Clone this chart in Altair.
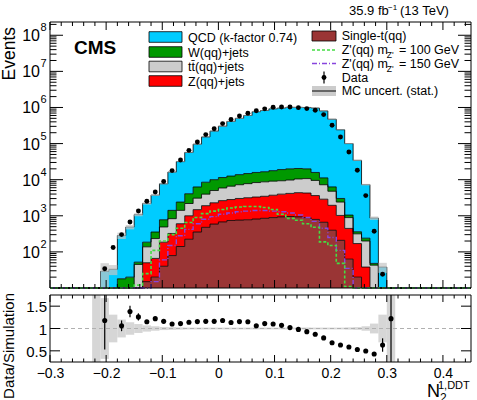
import altair as alt
import pandas as pd

FONT = "Liberation Sans"

# N2^{1,DDT} binning: 50 bins of width 0.015 between -0.3 and 0.45
X_MIN, X_MAX = -0.3, 0.45
N_BINS = 50
BIN_W = 0.015
bin_lo = [round(X_MIN + i * BIN_W, 4) for i in range(N_BINS)]
bin_hi = [round(X_MIN + (i + 1) * BIN_W, 4) for i in range(N_BINS)]
bin_mid = [round(X_MIN + (i + 0.5) * BIN_W, 5) for i in range(N_BINS)]

# ---- background yields per bin (stacked bottom -> top) ----
single_t = [0, 0, 0, 0, 0, 0, 0, 0, 0, 0,
            0, 15, 20, 40, 79, 141, 224, 355, 479, 589,
            676, 741, 759, 776, 813, 851, 891, 933, 955, 933,
            891, 794, 661, 398, 209, 63, 20, 0, 0, 0,
            0, 0, 0, 0, 0, 0, 0, 0, 0, 0]
z_jets = [0, 0, 0, 0, 0, 0, 0, 0, 0, 0,
          0, 35, 46, 146, 245, 462, 776, 1124, 1426, 1702,
          1954, 2077, 2261, 2386, 2498, 2616, 2824, 3048, 3214, 3432,
          3375, 2837, 2223, 1552, 814, 384, 150, 38, 0, 0,
          0, 0, 0, 0, 0, 0, 0, 0, 0, 0]
tt_jets = [0, 0, 0, 0, 0, 0, 0, 0, 0, 0,
           45, 88, 168, 304, 508, 810, 1188, 1600, 2076, 2721,
           3258, 3789, 4224, 4600, 5007, 5243, 5405, 5352, 5603, 6106,
           6449, 5919, 4360, 2836, 1376, 444, 146, 162, 43, 0,
           0, 0, 0, 0, 0, 0, 0, 0, 0, 0]
w_jets = [0, 0, 0, 0, 0, 0, 0, 0, 18, 20,
          7, 48, 121, 286, 581, 986, 1886, 3208, 4530, 4988,
          5594, 5982, 6560, 7029, 7531, 7886, 8663, 9722, 10181, 9946,
          9238, 6299, 3976, 1524, 621, 156, 45, 40, 5, 0,
          0, 0, 0, 0, 0, 0, 0, 0, 0, 0]
qcd = [0, 0, 0, 0, 0, 3, 29, 33, 266, 468,
       1026, 2007, 3387, 6908, 14832, 29277, 52821, 89818, 144420, 211552,
       291908, 398915, 486629, 585209, 749245, 807728, 900399, 943562, 989851, 989787,
       980047, 949668, 792577, 465749, 238250, 98953, 33985, 7064, 817, 38,
       4, 0, 0, 0, 0, 0, 0, 0, 0, 0]

# relative MC statistical uncertainty per bin
mc_unc = [0, 0, 0, 0, 0, 1.0, 0.68, 0.31, 0.2, 0.14,
          0.1, 0.07, 0.05, 0.035, 0.03, 0.025, 0.02, 0.02, 0.02, 0.02,
          0.02, 0.02, 0.02, 0.02, 0.02, 0.02, 0.02, 0.02, 0.02, 0.02,
          0.02, 0.02, 0.02, 0.02, 0.02, 0.025, 0.03, 0.05, 0.11, 0.31,
          1.0, 0, 0, 0, 0, 0, 0, 0, 0, 0]

# ---- signal templates ----
zp100 = [0, 0, 0, 0, 0, 0, 0, 0, 0, 0,
         12, 25, 110, 200, 300, 450, 650, 900, 1150, 1350,
         1500, 1650, 1750, 1800, 1800, 1700, 1500, 1100, 850, 750,
         600, 480, 190, 150, 48, 11, 0, 0, 0, 0,
         0, 0, 0, 0, 0, 0, 0, 0, 0, 0]
zp150 = [0, 0, 0, 0, 0, 0, 0, 0, 0, 0,
         0, 0, 15, 60, 150, 280, 420, 600, 800, 950,
         1100, 1200, 1300, 1350, 1400, 1400, 1350, 1300, 1200, 1050,
         900, 700, 450, 250, 110, 35, 10, 0, 0, 0,
         0, 0, 0, 0, 0, 0, 0, 0, 0, 0]

# ---- observed data ----
data_obs = [0, 0, 0, 0, 0, 0, 34, 132, 301, 673,
            1358, 2522, 4565, 8913, 17870, 35160, 64860, 110700, 177400, 257000,
            358000, 465000, 578000, 690000, 811000, 915000, 1010000, 1030000, 1030000, 990000,
            930000, 840000, 635000, 321000, 152000, 58500, 18200, 3630, 372, 24,
            5, 0, 0, 0, 0, 0, 0, 0, 0, 0]
ratio = [None, None, None, None, None, None, 1.18, 3.9, 1.06, 1.38,
         1.26, 1.15, 1.22, 1.16, 1.10, 1.11, 1.14, 1.155, 1.16, 1.16,
         1.18, 1.135, 1.155, 1.15, 1.06, 1.11, 1.10, 1.07, 1.02, 0.98,
         0.93, 0.87, 0.79, 0.68, 0.63, 0.585, 0.53, 0.495, 0.43, 0.63,
         1.22, None, None, None, None, None, None, None, None, None]
ratio_err = [0, 0, 0, 0, 0, 0, 0.65, 0.9, 0.12, 0.13,
             0.08, 0.04, 0.03, 0.02, 0.015, 0.01, 0.01, 0.01, 0.01, 0.01,
             0.01, 0.01, 0.01, 0.01, 0.01, 0.01, 0.01, 0.01, 0.01, 0.01,
             0.01, 0.01, 0.01, 0.01, 0.01, 0.01, 0.01, 0.02, 0.03, 0.15,
             1.3, 0, 0, 0, 0, 0, 0, 0, 0, 0]

x_ticks_major = [-0.3, -0.2, -0.1, 0.0, 0.1, 0.2, 0.3, 0.4]
y_ticks_major = [1e2, 1e3, 1e4, 1e5, 1e6, 1e7, 1e8]
ratio_ticks = [0.5, 1.0, 1.5]

# ---- panel geometry (pixels inside the plotting group) ----
W = 421
TOP_H = 266
RAT_TOP = 273
RAT_BOT = 340
Y_MIN, Y_MAX = 10, 2.33e8

x_scale = alt.Scale(domain=[X_MIN, X_MAX], nice=False, zero=False)
y_log = alt.Scale(type="log", domain=[Y_MIN, Y_MAX], range=[TOP_H, 0], clamp=True, nice=False)
y_rat = alt.Scale(domain=[0.25, 1.75], range=[RAT_BOT, RAT_TOP], clamp=True, nice=False, zero=False)

x_axis = alt.Axis(values=x_ticks_major, format=".1~f", labelFont=FONT, labelFontSize=14,
                  labelColor="black", labelPadding=4, labelFlush=False, ticks=False,
                  domain=False, grid=False, title=None)


def X(field):
    return alt.X(field, type="quantitative", scale=x_scale, axis=x_axis)


def YL(field):
    return alt.Y(field, type="quantitative", scale=y_log, axis=None)


def YR(field):
    return alt.Y(field, type="quantitative", scale=y_rat, axis=None)


FLOOR = 0.1


def step_frame(hi_vals, lo_vals=None):
    rows = []
    for i in range(N_BINS + 1):
        j = min(i, N_BINS - 1)
        x = bin_lo[i] if i < N_BINS else bin_hi[-1]
        row = {"x": x, "hi": max(hi_vals[j], FLOOR)}
        if lo_vals is not None:
            row["lo"] = max(lo_vals[j], FLOOR)
        rows.append(row)
    return pd.DataFrame(rows)


one = pd.DataFrame({"k": [0]})


def text(t, x, y, size, align="left", baseline="alphabetic", **kw):
    return alt.Chart(one).mark_text(text=t, font=FONT, fontSize=size, align=align,
                                    baseline=baseline, color="black", **kw).encode(
        x=alt.value(x), y=alt.value(y))


def box(x0, x1, y0, y1, fill, stroke="black", sw=0.8, **kw):
    return alt.Chart(one).mark_rect(fill=fill, stroke=stroke, strokeWidth=sw, **kw).encode(
        x=alt.value(x0), x2=alt.value(x1), y=alt.value(y0), y2=alt.value(y1))


layers = []

# ---- stacked backgrounds ----
stack = [("#9a3535", single_t), ("#ff0000", z_jets), ("#cccccc", tt_jets),
         ("#009900", w_jets), ("#00ccff", qcd)]
cum = [0.0] * N_BINS
outlines = []
for col, vals in stack:
    lower = cum[:]
    cum = [a + b for a, b in zip(cum, vals)]
    df = step_frame(cum, lower)
    layers.append(alt.Chart(df).mark_area(interpolate="step-after", color=col, opacity=1).encode(
        x=X("x"), y=YL("hi"), y2="lo"))
    outlines.append(alt.Chart(df).mark_line(interpolate="step-after", color="black",
                                            strokeWidth=0.8).encode(x=X("x"), y=YL("hi")))
layers += outlines
total = cum

# MC stat. band on the total
band = pd.DataFrame({"lo": bin_lo, "hi": bin_hi,
                     "dn": [t * (1 - u) for t, u in zip(total, mc_unc)],
                     "up": [t * (1 + u) for t, u in zip(total, mc_unc)],
                     "t": total})
band = band[band["t"] > 0].copy()
band["dn"] = band["dn"].clip(lower=FLOOR)
layers.append(alt.Chart(band).mark_rect(fill="#c4c4c4", opacity=0.7).encode(
    x=X("lo"), x2="hi", y=YL("up"), y2="dn"))

# signals
layers.append(alt.Chart(step_frame(zp150)).mark_line(
    interpolate="step-after", color="#8844dd", strokeWidth=1.4, strokeDash=[5, 2, 1, 2]).encode(
    x=X("x"), y=YL("hi")))
layers.append(alt.Chart(step_frame(zp100)).mark_line(
    interpolate="step-after", color="#44dd44", strokeWidth=1.6, strokeDash=[3, 2]).encode(
    x=X("x"), y=YL("hi")))

# data points
pts = pd.DataFrame({"x": bin_mid, "n": data_obs})
pts = pts[pts["n"] >= Y_MIN]
layers.append(alt.Chart(pts).mark_circle(size=24, color="black", opacity=1).encode(
    x=X("x"), y=YL("n")))

# ---- ratio panel ----
rb = pd.DataFrame({"lo": bin_lo, "hi": bin_hi,
                   "dn": [1 - u for u in mc_unc], "up": [1 + u for u in mc_unc], "u": mc_unc})
rb = rb[rb["u"] > 0]
layers.append(alt.Chart(rb).mark_rect(fill="#cfcfcf", opacity=0.85).encode(
    x=X("lo"), x2="hi", y=YR("up"), y2="dn"))
layers.append(alt.Chart(pd.DataFrame({"v": [1.0]})).mark_rule(
    color="#b0b0b0", strokeDash=[4, 3], strokeWidth=1).encode(
    y=YR("v"), x=alt.value(0), x2=alt.value(W)))

rp = pd.DataFrame({"x": bin_mid, "r": ratio, "e": ratio_err}).dropna()
rp["lo"] = rp["r"] - rp["e"]
rp["hi"] = rp["r"] + rp["e"]
bars = rp[(rp["lo"] < 1.75) & (rp["hi"] > 0.25)]
layers.append(alt.Chart(bars).mark_rule(color="black", strokeWidth=1.2).encode(
    x=X("x"), y=YR("lo"), y2="hi"))
dots = rp[(rp["r"] <= 1.75) & (rp["r"] >= 0.25)]
layers.append(alt.Chart(dots).mark_circle(size=26, color="black", opacity=1).encode(
    x=X("x"), y=YR("r")))

# ---- inward ticks ----
x_minor = [round(-0.3 + 0.02 * i, 2) for i in range(38) if i % 5 != 0]
y_minor = [m * 10 ** n for n in range(1, 9) for m in range(2, 10) if m * 10 ** n < Y_MAX]


def x_ticks(vals, y0, y1):
    return alt.Chart(pd.DataFrame({"v": vals})).mark_rule(color="black", strokeWidth=1).encode(
        x=X("v"), y=alt.value(y0), y2=alt.value(y1))


layers += [x_ticks(x_ticks_major, TOP_H, TOP_H - 8), x_ticks(x_minor, TOP_H, TOP_H - 4),
           x_ticks(x_ticks_major, 0, 8), x_ticks(x_minor, 0, 4),
           x_ticks(x_ticks_major, RAT_BOT, RAT_BOT - 7), x_ticks(x_minor, RAT_BOT, RAT_BOT - 3.5),
           x_ticks(x_ticks_major, RAT_TOP, RAT_TOP + 7), x_ticks(x_minor, RAT_TOP, RAT_TOP + 3.5)]

for vals, ln in [(y_ticks_major, 13), (y_minor, 6.5)]:
    d = pd.DataFrame({"v": vals})
    layers.append(alt.Chart(d).mark_rule(color="black", strokeWidth=1).encode(
        y=YL("v"), x=alt.value(0), x2=alt.value(ln)))
    layers.append(alt.Chart(d).mark_rule(color="black", strokeWidth=1).encode(
        y=YL("v"), x=alt.value(W - ln), x2=alt.value(W)))
rt = pd.DataFrame({"v": ratio_ticks})
layers.append(alt.Chart(rt).mark_rule(color="black", strokeWidth=1).encode(
    y=YR("v"), x=alt.value(0), x2=alt.value(10)))
layers.append(alt.Chart(rt).mark_rule(color="black", strokeWidth=1).encode(
    y=YR("v"), x=alt.value(W - 10), x2=alt.value(W)))

# panel frames
layers.append(box(0, W, 0, TOP_H, "transparent", sw=1))
layers.append(box(0, W, RAT_TOP, RAT_BOT, "transparent", sw=1))

# ---- axis labels ----
ylab = pd.DataFrame({"v": y_ticks_major, "p": [str(e) for e in range(2, 9)]})
layers.append(alt.Chart(ylab).mark_text(text="10", font=FONT, fontSize=16, align="right",
                                        baseline="middle", dy=1, color="black").encode(
    y=YL("v"), x=alt.value(-10)))
layers.append(alt.Chart(ylab).mark_text(font=FONT, fontSize=11, align="left",
                                        baseline="middle", dy=-7, color="black").encode(
    y=YL("v"), x=alt.value(-9.5), text="p:N"))
rlab = pd.DataFrame({"v": ratio_ticks, "t": ["0.5", "1", "1.5"]})
layers.append(alt.Chart(rlab).mark_text(font=FONT, fontSize=15, align="right",
                                        baseline="middle", dy=1, color="black").encode(
    y=YR("v"), x=alt.value(-3), text="t:N"))

layers.append(text("Events", -35, 5, 17.5, align="right", angle=270))
layers.append(text("Data/Simulation", -36, 271, 15, align="right", angle=270))
layers.append(text("N", 377, 375, 18))
layers.append(text("2", 390, 380, 12))
layers.append(text("1,DDT", 388, 367, 11))

# ---- header ----
layers.append(text("CMS", 24, 32, 19, fontWeight="bold"))
layers.append(text("35.9 fb", 299, -7, 13))
layers.append(text("\u22121", 338, -12, 8))
layers.append(text("(13 TeV)", 350, -7, 13))

# ---- legend ----
left_rows = [("QCD (k-factor 0.74)", "#00ccff", 15), ("W(qq)+jets", "#009900", 30),
             ("tt\u0304(qq)+jets", "#cccccc", 44.5), ("Z(qq)+jets", "#ff0000", 59)]
for label, col, yc in left_rows:
    layers.append(box(99, 132, yc - 5.3, yc + 5.3, col))
    layers.append(text(label, 138, yc + 0.5, 12.5, baseline="middle"))

layers.append(box(262, 286, 14 - 5, 14 + 5, "#9a3535"))
layers.append(text("Single-t(qq)", 291.7, 14, 12.5, baseline="middle"))
for yc, col, dash, mass in [(28, "#44dd44", [3, 2], "100"), (41.5, "#8844dd", [5, 2, 1, 2], "150")]:
    layers.append(alt.Chart(one).mark_rule(color=col, strokeDash=dash, strokeWidth=1.5).encode(
        x=alt.value(262), x2=alt.value(286), y=alt.value(yc)))
    layers.append(text("Z'(qq) m", 291.7, yc, 12.5, baseline="middle"))
    layers.append(text("Z'", 336.7, yc + 5, 8.5, baseline="middle"))
    layers.append(text("= " + mass + " GeV", 349, yc, 12.5, baseline="middle"))
layers.append(alt.Chart(one).mark_rule(color="black", strokeWidth=1.2).encode(
    x=alt.value(274), y=alt.value(49.5), y2=alt.value(61.5)))
layers.append(alt.Chart(one).mark_circle(size=24, color="black", opacity=1).encode(
    x=alt.value(274), y=alt.value(55.5)))
layers.append(text("Data", 291.7, 55.5, 12.5, baseline="middle"))
layers.append(box(262, 286, 64, 74, "#cccccc", stroke=None, sw=0))
layers.append(alt.Chart(one).mark_rule(color="black", strokeWidth=1).encode(
    x=alt.value(262), x2=alt.value(286), y=alt.value(69)))
layers.append(text("MC uncert. (stat.)", 291.7, 69, 12.5, baseline="middle"))

chart = alt.layer(*layers).resolve_scale(y="independent").properties(
    width=W, height=RAT_BOT,
    padding={"left": 50, "top": 22, "right": 6, "bottom": 38},
    autosize=alt.AutoSizeParams(type="none"),
).configure(font=FONT).configure_view(stroke=None)

chart.save("out.html", embed_options={"renderer": "svg", "actions": False})
